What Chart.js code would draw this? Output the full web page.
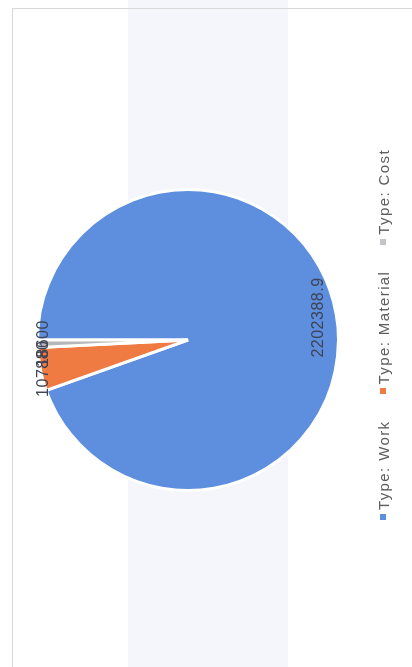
<!DOCTYPE html>
<html>
<head>
<meta charset="utf-8">
<title>Cost by type</title>
<script src="https://cdn.jsdelivr.net/npm/chart.js@4.4.1/dist/chart.umd.min.js"></script>
<style>
  html, body { margin: 0; padding: 0; background: #fff; overflow: hidden; }
  body { width: 412px; height: 667px; position: relative; font-family: "Liberation Sans", Arial, sans-serif; }
  #band { position: absolute; left: 128px; top: 0; width: 160px; height: 667px; background: #f5f6fb; }
  #frame { position: absolute; left: 12px; top: 8px; right: -4px; bottom: -4px;
           border-left: 1px solid #d8d8d8; border-top: 1px solid #d8d8d8; }
  /* the sheet is laid out landscape and turned a quarter turn */
  #sheet { position: absolute; left: 0; top: 0; width: 667px; height: 412px;
           transform-origin: 0 0; transform: translateY(667px) rotate(-90deg); }
  #plot { position: absolute; left: 0; top: 0; width: 667px; height: 376px; }
  #legend { position: absolute; left: -1px; top: 373px; width: 667px; height: 20px;
            display: flex; justify-content: center; align-items: center; gap: 26px; }
  .item { display: flex; align-items: center; gap: 4px; font-size: 15px; letter-spacing: 1.4px; color: #5d5d5d; }
  .mark { width: 6px; height: 6px; }
</style>
</head>
<body>
<div id="band"></div>
<div id="frame"></div>
<div id="sheet">
  <div id="plot"><canvas id="pie"></canvas></div>
  <div id="legend"></div>
</div>
<script>
const types = ['Type: Work', 'Type: Material', 'Type: Cost'];
const amounts = [2202388.9, 107880, 18600];
const sliceColors = ['#5e8fde', '#ef7b43', '#b6b6bb'];
const markColors = ['#5e8fde', '#ef7b43', '#c4c4c8'];

// value labels, placed along each slice's middle angle
const sliceLabels = {
  id: 'sliceLabels',
  afterDatasetsDraw(chart, args, opts) {
    const ctx = chart.ctx;
    const meta = chart.getDatasetMeta(0);
    const values = chart.data.datasets[0].data;
    ctx.save();
    ctx.font = opts.font;
    ctx.letterSpacing = '0.5px';
    ctx.fillStyle = opts.color;
    ctx.textAlign = 'center';
    ctx.textBaseline = 'middle';
    meta.data.forEach((arc, i) => {
      const p = arc.getProps(['x', 'y', 'startAngle', 'endAngle', 'outerRadius'], true);
      const mid = (p.startAngle + p.endAngle) / 2;
      const r = p.outerRadius * opts.radius[i];
      ctx.fillText(String(values[i]), p.x + Math.cos(mid) * r, p.y + Math.sin(mid) * r);
    });
    ctx.restore();
  }
};

new Chart(document.getElementById('pie'), {
  type: 'pie',
  data: {
    labels: types,
    datasets: [{
      data: amounts,
      backgroundColor: sliceColors,
      borderColor: '#ffffff',
      borderWidth: 3
    }]
  },
  options: {
    responsive: true,
    maintainAspectRatio: false,
    animation: false,
    layout: { padding: { top: 36, bottom: 36, left: 0, right: 13 } },
    plugins: {
      legend: { display: false },
      tooltip: { enabled: false },
      sliceLabels: {
        font: '16px "Liberation Sans", Arial, sans-serif',
        color: '#3e4456',
        radius: [0.88, 0.98, 0.96]
      }
    }
  },
  plugins: [sliceLabels]
});

// legend row under the pie
const legend = document.getElementById('legend');
types.forEach((t, i) => {
  const item = document.createElement('div');
  item.className = 'item';
  const mark = document.createElement('span');
  mark.className = 'mark';
  mark.style.background = markColors[i];
  const txt = document.createElement('span');
  txt.textContent = t;
  item.appendChild(mark);
  item.appendChild(txt);
  legend.appendChild(item);
});
</script>
</body>
</html>
